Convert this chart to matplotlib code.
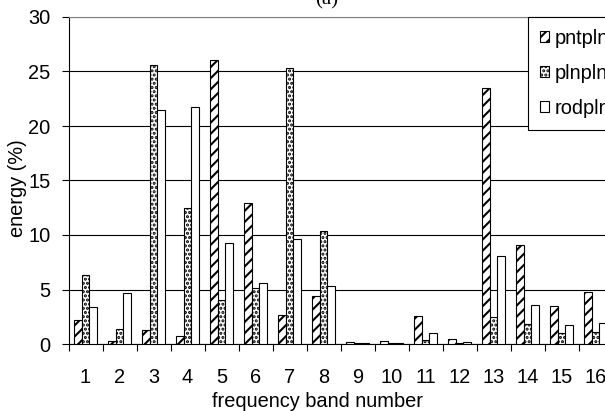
import matplotlib
matplotlib.use("Agg")
import matplotlib.pyplot as plt
import numpy as np

bands = [str(i) for i in range(1, 17)]
pntpln = [2.2, 0.3, 1.3, 0.7, 26.1, 12.9, 2.7, 4.4, 0.2, 0.3, 2.6, 0.5, 23.5, 9.1, 3.5, 4.8]
plnpln = [6.3, 1.4, 25.6, 12.5, 4.0, 5.1, 25.3, 10.4, 0.1, 0.1, 0.4, 0.1, 2.5, 1.8, 1.0, 1.1]
rodpln = [3.4, 4.7, 21.5, 21.7, 9.3, 5.6, 9.6, 5.3, 0.1, 0.1, 1.0, 0.2, 8.1, 3.6, 1.7, 1.9]
series_names = ["pntpln", "plnpln", "rodpln"]
yticks = [0, 5, 10, 15, 20, 25, 30]

plt.rcParams['font.family'] = ['Liberation Sans', 'DejaVu Sans']
plt.rcParams['hatch.linewidth'] = 1.5
FS = 14.4

W, H = 605, 411
fig = plt.figure(figsize=(W / 100, H / 100), dpi=100)
ax_left, ax_right, ax_top, ax_bot = 68.5, 612.5, 17, 344
ax = fig.add_axes([ax_left / W, 1 - ax_bot / H, (ax_right - ax_left) / W, (ax_bot - ax_top) / H])

x = np.arange(1, len(bands) + 1)
w = 0.222
ax.bar(x - w, pntpln, w, facecolor='white', edgecolor='black', linewidth=0.8, hatch='///', label=series_names[0], zorder=3)
ax.bar(x, plnpln, w, facecolor='white', edgecolor='black', linewidth=0.8, hatch='....', label=series_names[1], zorder=3)
ax.bar(x + w, rodpln, w, facecolor='white', edgecolor='black', linewidth=0.8, label=series_names[2], zorder=3)

ax.set_xlim(0.5, len(bands) + 0.5)
ax.set_ylim(0, 30)
ax.set_yticks(yticks)
ax.set_yticklabels([str(t) for t in yticks], fontsize=FS)
ax.set_xticks(x)
ax.set_xticklabels(bands, fontsize=FS)
ax.set_xticks(np.arange(0.5, len(bands) + 1, 1), minor=True)
ax.tick_params(axis='x', which='major', length=0, pad=17)
ax.tick_params(axis='x', which='minor', length=5, width=0.8, direction='out')
ax.tick_params(axis='y', length=5, width=0.8, direction='out', pad=8)

ax.yaxis.grid(True, color='black', linewidth=0.8, zorder=1)
ax.set_axisbelow(True)
for s in ['top', 'right']:
    ax.spines[s].set_color('#808080')
    ax.spines[s].set_linewidth(0.8)
for s in ['left', 'bottom']:
    ax.spines[s].set_color('black')
    ax.spines[s].set_linewidth(0.8)

fig.text(18 / W, 1 - 188 / H, "energy (%)", rotation=90, ha='center', va='center', fontsize=FS)
fig.text(317 / W, 1 - 401 / H, "frequency band number", ha='center', va='center', fontsize=FS)
fig.text(326.5 / W, 1 - 4 / H, "(a)", ha='center', va='baseline', fontsize=15,
         family=['Liberation Serif', 'DejaVu Serif'])

leg = ax.legend(loc='upper left', bbox_to_anchor=(528.3 / W, 1 - 17 / H), bbox_transform=fig.transFigure,
                borderaxespad=0, fontsize=FS, frameon=True, fancybox=False, framealpha=1,
                edgecolor='black', handlelength=0.45, handleheight=0.45, handletextpad=0.25,
                labelspacing=0.8, borderpad=0.6)
leg.get_frame().set_linewidth(0.8)

fig.savefig("out.png", dpi=100)
